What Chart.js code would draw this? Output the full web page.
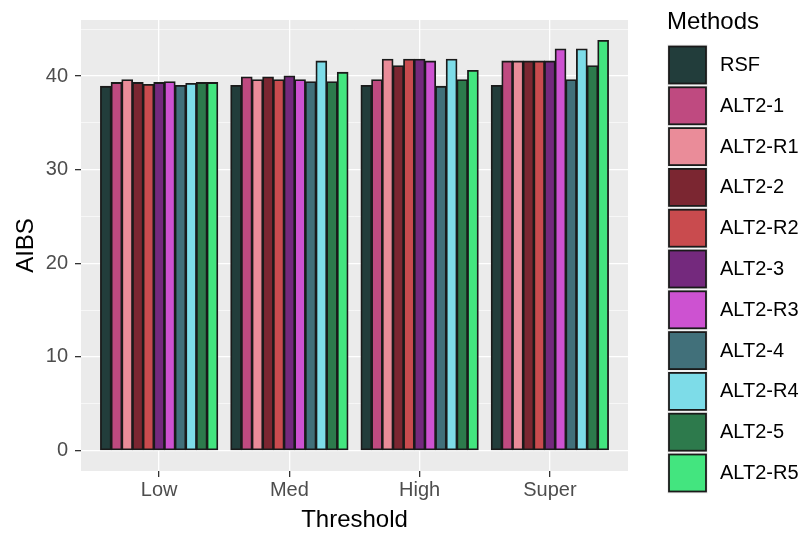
<!DOCTYPE html>
<html>
<head>
<meta charset="utf-8">
<script src="https://cdn.jsdelivr.net/npm/chart.js@4"></script>
<style>
  html, body { margin: 0; padding: 0; background: #fff; }
  #wrap { width: 804px; height: 535px; position: relative; }
</style>
</head>
<body>
<div id="wrap"><canvas id="aibsChart"></canvas></div>
<script>
// data
const thresholds = ['Low', 'Med', 'High', 'Super'];
const methods = ['RSF', 'ALT2-1', 'ALT2-R1', 'ALT2-2', 'ALT2-R2', 'ALT2-3',
                 'ALT2-R3', 'ALT2-4', 'ALT2-R4', 'ALT2-5', 'ALT2-R5'];
const rsf    = [38.9, 39.0, 39.0, 39.0];
const alt2_1 = [39.3, 39.9, 39.6, 41.6];
const alt2R1 = [39.6, 39.6, 41.8, 41.6];
const alt2_2 = [39.3, 39.9, 41.1, 41.6];
const alt2R2 = [39.1, 39.6, 41.8, 41.6];
const alt2_3 = [39.3, 40.0, 41.8, 41.6];
const alt2R3 = [39.4, 39.6, 41.6, 42.9];
const alt2_4 = [39.0, 39.4, 38.9, 39.6];
const alt2R4 = [39.2, 41.6, 41.8, 42.9];
const alt2_5 = [39.3, 39.4, 39.6, 41.1];
const alt2R5 = [39.3, 40.4, 40.6, 43.8];
const yTicks = [0, 10, 20, 30, 40];

const seriesValues = [rsf, alt2_1, alt2R1, alt2_2, alt2R2, alt2_3, alt2R3, alt2_4, alt2R4, alt2_5, alt2R5];
const fillColors = ['#223D3B', '#BF4A80', '#EA8C99', '#7B2631', '#C94B4E', '#74297D',
                    '#CD52D1', '#41707A', '#7DDCE8', '#2D7A4C', '#43E57F'];

const FONT = '"Liberation Sans", Arial, sans-serif';

document.addEventListener('DOMContentLoaded', () => {
    const ctx = document.getElementById('aibsChart').getContext('2d');

    // gray ggplot panel behind the grid
    const panelBg = {
        id: 'panelBg',
        beforeDraw(chart) {
            const a = chart.chartArea;
            const c = chart.ctx;
            c.save();
            c.fillStyle = '#EBEBEB';
            c.fillRect(a.left, a.top, a.right - a.left, a.bottom - a.top);
            c.restore();
        }
    };

    // legend drawn at the right like ggplot's
    const sideLegend = {
        id: 'sideLegend',
        afterDraw(chart) {
            const c = chart.ctx;
            c.save();
            c.fillStyle = '#000';
            c.font = '24px ' + FONT;
            c.textBaseline = 'alphabetic';
            c.textAlign = 'left';
            c.fillText('Methods', 667, 28.5);
            c.font = '20px ' + FONT;
            c.textBaseline = 'middle';
            methods.forEach((m, i) => {
                const y = 45.5 + i * 40.8;
                c.fillStyle = '#F2F2F2';
                c.fillRect(667, y - 1, 41, 41);
                c.fillStyle = fillColors[i];
                c.fillRect(669, y + 1, 37, 37);
                c.strokeStyle = '#1a1a1a';
                c.lineWidth = 1.8;
                c.strokeRect(669, y + 1, 37, 37);
                c.fillStyle = '#000';
                c.fillText(m, 720, y + 20);
            });
            c.restore();
        }
    };

    const datasets = methods.map((m, i) => ({
        label: m,
        data: seriesValues[i].map((v, j) => ({ x: j, y: v })),
        backgroundColor: fillColors[i],
        borderColor: '#1a1a1a',
        borderWidth: 1.8,
        borderSkipped: false,
        inflateAmount: 0.5,
        categoryPercentage: 0.9,
        barPercentage: 1.0
    }));

    new Chart(ctx, {
        type: 'bar',
        data: { datasets: datasets },
        plugins: [panelBg, sideLegend],
        options: {
            responsive: true,
            maintainAspectRatio: false,
            animation: false,
            layout: { padding: { left: 0, top: 20, right: 176, bottom: 0 } },
            plugins: {
                legend: { display: false },
                tooltip: { enabled: false }
            },
            scales: {
                x: {
                    type: 'linear',
                    min: -0.6,
                    max: 3.6,
                    offset: false,
                    afterBuildTicks: (scale) => {
                        scale.ticks = thresholds.map((t, i) => ({ value: i }));
                    },
                    afterFit: (scale) => { scale.height = 64; },
                    ticks: {
                        autoSkip: false,
                        maxRotation: 0,
                        padding: 1,
                        color: '#4D4D4D',
                        font: { family: FONT, size: 20 },
                        callback: (v) => thresholds[v]
                    },
                    grid: {
                        offset: false,
                        color: '#FFFFFF',
                        lineWidth: 1.3,
                        drawTicks: true,
                        tickLength: 6,
                        tickColor: '#333333',
                        tickWidth: 1.3
                    },
                    border: { display: false },
                    title: {
                        display: true,
                        text: 'Threshold',
                        color: '#000',
                        font: { family: FONT, size: 24 },
                        padding: { top: 3, bottom: 0 }
                    }
                },
                y: {
                    min: -2.19,
                    max: 45.99,
                    afterBuildTicks: (scale) => {
                        const t = [];
                        for (let v = 0; v <= 45; v += 5) t.push({ value: v });
                        scale.ticks = t;
                    },
                    afterFit: (scale) => { scale.width = 81; },
                    ticks: {
                        padding: 7,
                        color: '#4D4D4D',
                        font: { family: FONT, size: 20 },
                        callback: (v) => yTicks.includes(v) ? String(v) : ''
                    },
                    grid: {
                        color: '#FFFFFF',
                        lineWidth: (c) => (c.tick && yTicks.includes(c.tick.value)) ? 1.3 : 0.6,
                        drawTicks: true,
                        tickLength: 6,
                        tickColor: (c) => (c.tick && yTicks.includes(c.tick.value)) ? '#333333' : 'rgba(0,0,0,0)',
                        tickWidth: 1.3
                    },
                    border: { display: false },
                    title: {
                        display: true,
                        text: 'AIBS',
                        color: '#000',
                        font: { family: FONT, size: 24 },
                        padding: { top: 12, bottom: 0 }
                    }
                }
            }
        }
    });
});
</script>
</body>
</html>
